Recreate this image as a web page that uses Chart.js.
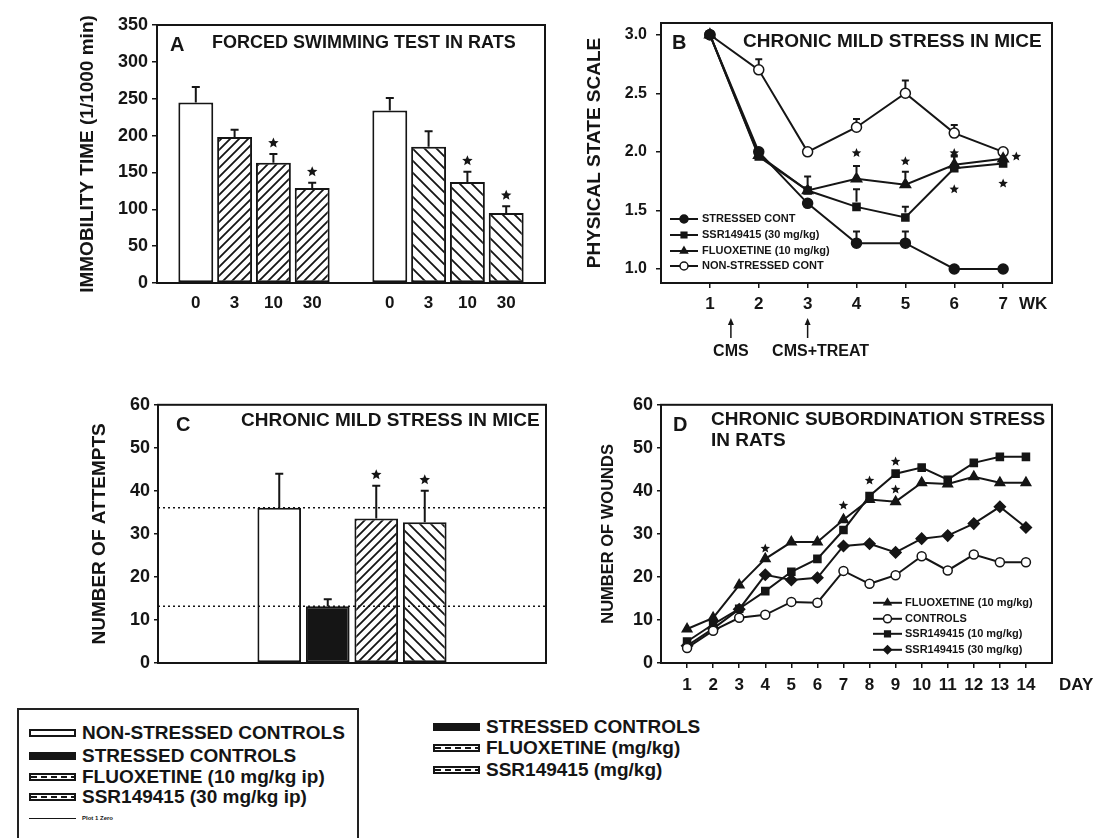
<!DOCTYPE html>
<html>
<head>
<meta charset="utf-8">
<script src="https://cdn.jsdelivr.net/npm/chart.js@4.4.1/dist/chart.umd.min.js"></script>
<style>
  body { margin: 0; background: #fff; width: 1098px; height: 838px; overflow: hidden; position: relative;
         font-family: "Liberation Sans", Arial, sans-serif; font-weight: bold; color: #151515; }
  canvas { position: absolute; }
  .legbox { position: absolute; left: 17px; top: 708px; width: 342px; height: 150px; border: 2px solid #222; box-sizing: border-box; }
  .row { position: absolute; height: 20px; line-height: 20px; font-size: 19px; white-space: nowrap; display: flex; align-items: center; }
  .ico { display: inline-block; width: 47px; height: 8px; box-sizing: border-box; margin-right: 6px; }
  .open { border: 2px solid #151515; background: #fff; }
  .solid { background: #151515; }
  .dash { border: 2px solid #151515; background: #fff repeating-linear-gradient(90deg, #151515 0 6px, transparent 6px 10px) center / 100% 2px no-repeat; }
  .thin { height: 1px; background: #151515; }
  .tiny { font-size: 6px; }
</style>
</head>
<body>
<canvas id="pA" width="555" height="330" style="left:0;top:0"></canvas>
<canvas id="pB" width="543" height="370" style="left:555px;top:0"></canvas>
<canvas id="pC" width="555" height="300" style="left:0;top:390px"></canvas>
<canvas id="pD" width="543" height="310" style="left:555px;top:390px"></canvas>

<div class="legbox"></div>
<div class="row" style="left:29px;top:723px"><span class="ico open"></span>NON-STRESSED CONTROLS</div>
<div class="row" style="left:29px;top:746px"><span class="ico solid"></span>STRESSED CONTROLS</div>
<div class="row" style="left:29px;top:767px"><span class="ico dash"></span>FLUOXETINE (10 mg/kg ip)</div>
<div class="row" style="left:29px;top:787px"><span class="ico dash"></span>SSR149415 (30 mg/kg ip)</div>
<div class="row tiny" style="left:29px;top:808px"><span class="ico thin"></span>Plot 1 Zero</div>

<div class="row" style="left:433px;top:717px"><span class="ico solid"></span>STRESSED CONTROLS</div>
<div class="row" style="left:433px;top:738px"><span class="ico dash"></span>FLUOXETINE (mg/kg)</div>
<div class="row" style="left:433px;top:760px"><span class="ico dash"></span>SSR149415 (mg/kg)</div>

<script>
const ink = '#151515';
const FONT = '"Liberation Sans", Arial, sans-serif';
Chart.defaults.font.family = FONT;
Chart.defaults.font.weight = 'bold';
Chart.defaults.color = ink;

// A: forced swimming test in rats
const doses = ['0', '3', '10', '30'];
const fstFluox = [245, 198, 163, 129];
const fstFluoxErr = [21, 10, 12, 7];
const fstFluoxSig = [0, 0, 1, 1];
const fstSSR = [234, 185, 137, 95];
const fstSSRErr = [17, 21, 14, 9];
const fstSSRSig = [0, 0, 1, 1];

// B: chronic mild stress in mice, physical state
const weeks = [1, 2, 3, 4, 5, 6, 7];
const cmsStressed = [3.0, 2.0, 1.56, 1.22, 1.22, 1.0, 1.0];
const cmsStressedErr = [0, 0, 0, 0.1, 0.1, 0, 0];
const cmsSSR = [3.0, 1.96, 1.67, 1.53, 1.44, 1.86, 1.90];
const cmsSSRErr = [0, 0, 0, 0.15, 0.09, 0.1, 0];
const cmsFluox = [3.0, 1.97, 1.67, 1.77, 1.72, 1.89, 1.94];
const cmsFluoxErr = [0, 0, 0.12, 0.11, 0.11, 0.08, 0];
const cmsNonStressed = [3.0, 2.70, 2.0, 2.21, 2.50, 2.16, 2.0];
const cmsNonStressedErr = [0, 0.09, 0, 0.07, 0.11, 0.07, 0];
const cmsStars = [[4, 1.99], [5, 1.92], [6, 1.99], [6, 1.68], [7.27, 1.96], [7, 1.73]];
const cmsEvents = [{wk: 1.43, text: 'CMS', dx: 0}, {wk: 3, text: 'CMS+TREAT', dx: 13}];

// C: chronic mild stress in mice, attempts
const attemptGroups = ['NON-STRESSED CONTROLS', 'STRESSED CONTROLS', 'FLUOXETINE (10 mg/kg ip)', 'SSR149415 (30 mg/kg ip)'];
const attempts = [36.1, 13.2, 33.6, 32.7];
const attemptsErr = [7.9, 1.6, 7.6, 7.3];
const attemptsSig = [0, 0, 1, 1];

// D: chronic subordination stress in rats
const days = [1, 2, 3, 4, 5, 6, 7, 8, 9, 10, 11, 12, 13, 14];
const woundsFluox = [7.9, 10.5, 18.1, 24.2, 28.1, 28.1, 33.3, 38.0, 37.5, 41.9, 41.6, 43.3, 41.9, 41.9];
const woundsCtrl = [3.5, 7.5, 10.5, 11.2, 14.2, 14.0, 21.4, 18.4, 20.4, 24.8, 21.5, 25.2, 23.4, 23.4];
const woundsSSR10 = [5.0, 9.0, 12.6, 16.7, 21.2, 24.2, 30.9, 38.8, 44.0, 45.4, 42.6, 46.5, 47.9, 47.9];
const woundsSSR30 = [4.0, 8.0, 12.5, 20.5, 19.3, 19.8, 27.2, 27.7, 25.7, 28.9, 29.6, 32.4, 36.3, 31.5];
const woundStars = [[4, 26.6], [7, 36.6], [8, 42.4], [9, 46.8], [9, 40.3]];

function hatch(dir, gap) {
  const c = document.createElement('canvas');
  c.width = gap; c.height = gap;
  const g = c.getContext('2d');
  g.fillStyle = '#fff'; g.fillRect(0, 0, gap, gap);
  g.strokeStyle = ink; g.lineWidth = 1.8;
  g.beginPath();
  if (dir > 0) {
    g.moveTo(-1, gap + 1); g.lineTo(gap + 1, -1);
    g.moveTo(-2, 2); g.lineTo(2, -2);
    g.moveTo(gap - 2, gap + 2); g.lineTo(gap + 2, gap - 2);
  } else {
    g.moveTo(-1, -1); g.lineTo(gap + 1, gap + 1);
    g.moveTo(gap - 2, -2); g.lineTo(gap + 2, 2);
    g.moveTo(-2, gap - 2); g.lineTo(2, gap + 2);
  }
  g.stroke();
  return g.createPattern(c, 'repeat');
}

function star(ctx, x, y, r) {
  ctx.beginPath();
  for (let i = 0; i < 10; i++) {
    const a = -Math.PI / 2 + i * Math.PI / 5, rr = i % 2 ? r * 0.45 : r;
    ctx.lineTo(x + rr * Math.cos(a), y + rr * Math.sin(a));
  }
  ctx.closePath();
  ctx.fill();
}

// per-canvas decorations (titles, legends, error bars, stars)
const decorCfg = {};
const decor = {
  id: 'decor',
  afterDatasetsDraw(chart) {
    const d = decorCfg[chart.canvas.id];
    if (!d) return;
    const ctx = chart.ctx, a = chart.chartArea, x = chart.scales.x, y = chart.scales.y;
    ctx.save();
    ctx.strokeStyle = ink; ctx.fillStyle = ink; ctx.lineWidth = 2;
    (d.refLines || []).forEach(v => {
      const py = y.getPixelForValue(v);
      ctx.save();
      ctx.setLineDash([2, 3]); ctx.lineWidth = 1.5;
      ctx.beginPath(); ctx.moveTo(a.left, py); ctx.lineTo(a.right, py); ctx.stroke();
      ctx.restore();
    });
    chart.data.datasets.forEach((ds, di) => {
      if (!ds.errors) return;
      const pts = chart.getDatasetMeta(di).data;
      ds.errors.forEach((e, i) => {
        const v = ds.data[i];
        const val = v && typeof v === 'object' ? v.y : v;
        if (val == null || !pts[i]) return;
        const px = pts[i].x, top = y.getPixelForValue(val + (e || 0));
        if (e) {
          ctx.lineWidth = 2;
          ctx.beginPath();
          ctx.moveTo(px, pts[i].y - (ds.pointRadius || 0));
          ctx.lineTo(px, top);
          ctx.moveTo(px - d.cap, top); ctx.lineTo(px + d.cap, top);
          ctx.stroke();
        }
        if (ds.stars && ds.stars[i]) star(ctx, px, top - 11, 5.5);
      });
    });
    (d.stars || []).forEach(s => star(ctx, x.getPixelForValue(s[0]), y.getPixelForValue(s[1]), 5));
    ctx.restore();
  },
  afterDraw(chart) {
    const d = decorCfg[chart.canvas.id];
    if (!d) return;
    const ctx = chart.ctx, a = chart.chartArea, x = chart.scales.x;
    ctx.save();
    ctx.strokeStyle = ink; ctx.fillStyle = ink; ctx.lineWidth = 2;
    ctx.strokeRect(a.left, a.top, a.right - a.left, a.bottom - a.top);
    ctx.textBaseline = 'middle'; ctx.textAlign = 'left';
    (d.texts || []).forEach(t => {
      ctx.font = 'bold ' + t.size + 'px ' + FONT;
      ctx.fillText(t.t, a.left + t.dx, a.top + t.dy);
    });
    if (d.unit) {
      ctx.font = 'bold 17px ' + FONT;
      ctx.fillText(d.unit.t, a.right + d.unit.dx, a.bottom + d.unit.dy);
    }
    if (d.legend) {
      const L = d.legend;
      L.rows.forEach((dy, k) => {
        const ds = chart.data.datasets[k];
        const yy = a.top + dy, x0 = a.left + L.x0, x1 = a.left + L.x1;
        ctx.strokeStyle = ink; ctx.lineWidth = 2;
        ctx.beginPath(); ctx.moveTo(x0, yy); ctx.lineTo(x1, yy); ctx.stroke();
        ctx.fillStyle = ds.pointBackgroundColor; ctx.lineWidth = 1.5;
        Chart.helpers.drawPoint(ctx, {pointStyle: ds.pointStyle, radius: L.r, rotation: 0, borderWidth: 1.5}, (x0 + x1) / 2, yy);
        ctx.fillStyle = ink;
        ctx.font = 'bold ' + L.size + 'px ' + FONT;
        ctx.fillText(ds.label, a.left + L.tx, yy);
      });
    }
    (d.arrows || []).forEach(ar => {
      const px = x.getPixelForValue(ar.wk);
      ctx.lineWidth = 1.5;
      ctx.beginPath(); ctx.moveTo(px, a.bottom + d.arrowY[1]); ctx.lineTo(px, a.bottom + d.arrowY[0] + 5); ctx.stroke();
      ctx.beginPath();
      ctx.moveTo(px, a.bottom + d.arrowY[0]);
      ctx.lineTo(px - 3, a.bottom + d.arrowY[0] + 7);
      ctx.lineTo(px + 3, a.bottom + d.arrowY[0] + 7);
      ctx.closePath(); ctx.fill();
      ctx.font = 'bold 16px ' + FONT; ctx.textAlign = 'center';
      ctx.fillText(ar.text, px + ar.dx, a.bottom + d.arrowY[2]);
      ctx.textAlign = 'left';
    });
    ctx.restore();
  }
};

function yAxis(o) {
  const s = {
    min: o.min, max: o.max,
    afterFit: sc => { sc.width = o.width; },
    ticks: {color: ink, font: {size: o.tickSize || 18, weight: 'bold'}, padding: o.pad},
    grid: {drawOnChartArea: false, tickLength: o.tick, color: ink, lineWidth: 1.5},
    border: {display: false},
    title: {display: true, text: o.title, color: ink, font: {size: o.titleSize || 19, weight: 'bold'}, padding: 0}
  };
  if (o.step) s.ticks.stepSize = o.step;
  if (o.ticks) s.afterBuildTicks = sc => { sc.ticks = o.ticks.map(v => ({value: v})); };
  if (o.fmt) s.ticks.callback = o.fmt;
  return s;
}

function xLinear(o) {
  return {
    type: 'linear', min: o.min, max: o.max, offset: false,
    afterFit: sc => { sc.height = o.height; },
    afterBuildTicks: sc => { sc.ticks = o.ticks.map(v => ({value: v})); },
    ticks: {color: ink, font: {size: 17, weight: 'bold'}, padding: o.pad, autoSkip: false, maxRotation: 0},
    grid: {drawOnChartArea: false, tickLength: 5, color: ink, lineWidth: 1.5},
    border: {display: false}
  };
}

const base = {
  responsive: false, animation: false,
  plugins: {legend: {display: false}, tooltip: {enabled: false}}
};

// ---------- A ----------
const hatchF = hatch(1, 9), hatchS = hatch(-1, 12);
const labelsA = ['', ...doses, '', ...doses, ''];
const valuesA = [null, ...fstFluox, null, ...fstSSR, null];
const errA = [0, ...fstFluoxErr, 0, ...fstSSRErr, 0];
const sigA = [0, ...fstFluoxSig, 0, ...fstSSRSig, 0];
const fillA = ['#fff', ...doses.map((_, i) => i ? hatchF : '#fff'), '#fff', ...doses.map((_, i) => i ? hatchS : '#fff'), '#fff'];

decorCfg.pA = {cap: 4, texts: [{t: 'A', dx: 13, dy: 20, size: 20}, {t: 'FORCED SWIMMING TEST IN RATS', dx: 55, dy: 18, size: 18}]};
new Chart(document.getElementById('pA'), {
  type: 'bar',
  data: {labels: labelsA, datasets: [{data: valuesA, errors: errA, stars: sigA, backgroundColor: fillA,
    borderColor: ink, borderWidth: 2, borderSkipped: false, barPercentage: 0.9, categoryPercentage: 1}]},
  options: Object.assign({}, base, {
    layout: {padding: {left: 76.6, top: 25, right: 9, bottom: 0}},
    scales: {
      x: {offset: false, afterFit: sc => { sc.height = 47; }, grid: {display: false, drawTicks: false}, border: {display: false},
          ticks: {autoSkip: false, maxRotation: 0, padding: 10, color: ink, font: {size: 17, weight: 'bold'}}},
      y: yAxis({min: 0, max: 350, step: 50, width: 80.4, pad: 4, tick: 5, title: 'IMMOBILITY TIME (1/1000 min)'})
    }
  }),
  plugins: [decor]
});

// ---------- B ----------
const pts = arr => weeks.map((w, i) => ({x: w, y: arr[i]}));
function lineDs(label, arr, err, style, fill, r) {
  return {label, data: arr, errors: err, borderColor: ink, borderWidth: 2, tension: 0,
    pointStyle: style, pointRadius: r, pointBackgroundColor: fill, pointBorderColor: ink, pointBorderWidth: 1.5};
}
decorCfg.pB = {
  cap: 3.5,
  texts: [{t: 'B', dx: 11, dy: 20, size: 20}, {t: 'CHRONIC MILD STRESS IN MICE', dx: 82, dy: 19, size: 19}],
  legend: {x0: 9, x1: 37, tx: 41, rows: [196, 212, 228, 243], size: 11, r: 4},
  stars: cmsStars,
  arrows: cmsEvents,
  arrowY: [35, 55, 69],
  unit: {t: 'WK', dx: -33, dy: 21}
};
new Chart(document.getElementById('pB'), {
  type: 'line',
  data: {datasets: [
    lineDs('STRESSED CONT', pts(cmsStressed), cmsStressedErr, 'circle', ink, 5),
    lineDs('SSR149415 (30 mg/kg)', pts(cmsSSR), cmsSSRErr, 'rect', ink, 5),
    lineDs('FLUOXETINE (10 mg/kg)', pts(cmsFluox), cmsFluoxErr, 'triangle', ink, 6),
    lineDs('NON-STRESSED CONT', pts(cmsNonStressed), cmsNonStressedErr, 'circle', '#fff', 5)
  ]},
  options: Object.assign({}, base, {
    layout: {padding: {left: 28.6, top: 23, right: 46, bottom: 0}},
    scales: {
      x: xLinear({min: 0, max: 8, height: 87, pad: 6, ticks: weeks}),
      y: yAxis({min: 0.88, max: 3.10, width: 77.4, pad: 9, tick: 5, tickSize: 16, title: 'PHYSICAL STATE SCALE',
                ticks: [1, 1.5, 2, 2.5, 3], fmt: v => Number(v).toFixed(1)})
    }
  }),
  plugins: [decor]
});

// ---------- C ----------
const hatchF2 = hatch(1, 9), hatchS2 = hatch(-1, 11);
decorCfg.pC = {cap: 4, refLines: [attempts[0], attempts[1]],
  texts: [{t: 'C', dx: 18, dy: 21, size: 20}, {t: 'CHRONIC MILD STRESS IN MICE', dx: 83, dy: 16, size: 19}]};
new Chart(document.getElementById('pC'), {
  type: 'bar',
  data: {labels: ['', '', ...attemptGroups, '', ''],
    datasets: [{data: [null, null, ...attempts, null, null], errors: [0, 0, ...attemptsErr, 0, 0], stars: [0, 0, ...attemptsSig, 0, 0],
      backgroundColor: ['#fff', '#fff', '#fff', ink, hatchF2, hatchS2, '#fff', '#fff'],
      borderColor: ink, borderWidth: 2, borderSkipped: false, barPercentage: 0.9, categoryPercentage: 1}]},
  options: Object.assign({}, base, {
    layout: {padding: {left: 88.6, top: 14, right: 9, bottom: 27}},
    scales: {
      x: {display: false},
      y: yAxis({min: 0, max: 60, step: 10, width: 69.4, pad: 4, tick: 4, title: 'NUMBER OF ATTEMPTS'})
    }
  }),
  plugins: [decor]
});

// ---------- D ----------
const dpts = arr => days.map((d, i) => ({x: d, y: arr[i]}));
decorCfg.pD = {
  cap: 3.5,
  texts: [{t: 'D', dx: 12, dy: 21, size: 20}, {t: 'CHRONIC SUBORDINATION STRESS', dx: 50, dy: 15, size: 19}, {t: 'IN RATS', dx: 50, dy: 36, size: 19}],
  legend: {x0: 212, x1: 241, tx: 244, rows: [198, 214, 229, 245], size: 11, r: 4},
  stars: woundStars,
  unit: {t: 'DAY', dx: 7, dy: 22}
};
new Chart(document.getElementById('pD'), {
  type: 'line',
  data: {datasets: [
    lineDs('FLUOXETINE (10 mg/kg)', dpts(woundsFluox), null, 'triangle', ink, 5.5),
    lineDs('CONTROLS', dpts(woundsCtrl), null, 'circle', '#fff', 4.5),
    lineDs('SSR149415 (10 mg/kg)', dpts(woundsSSR10), null, 'rect', ink, 5),
    lineDs('SSR149415 (30 mg/kg)', dpts(woundsSSR30), null, 'rectRot', ink, 5.5)
  ]},
  options: Object.assign({}, base, {
    layout: {padding: {left: 43.1, top: 14, right: 46, bottom: 0}},
    scales: {
      x: xLinear({min: 0, max: 15, height: 37, pad: 7, ticks: days}),
      y: yAxis({min: 0, max: 60, step: 10, width: 62.9, pad: 4, tick: 4, titleSize: 16.5, title: 'NUMBER OF WOUNDS'})
    }
  }),
  plugins: [decor]
});
</script>
</body>
</html>
